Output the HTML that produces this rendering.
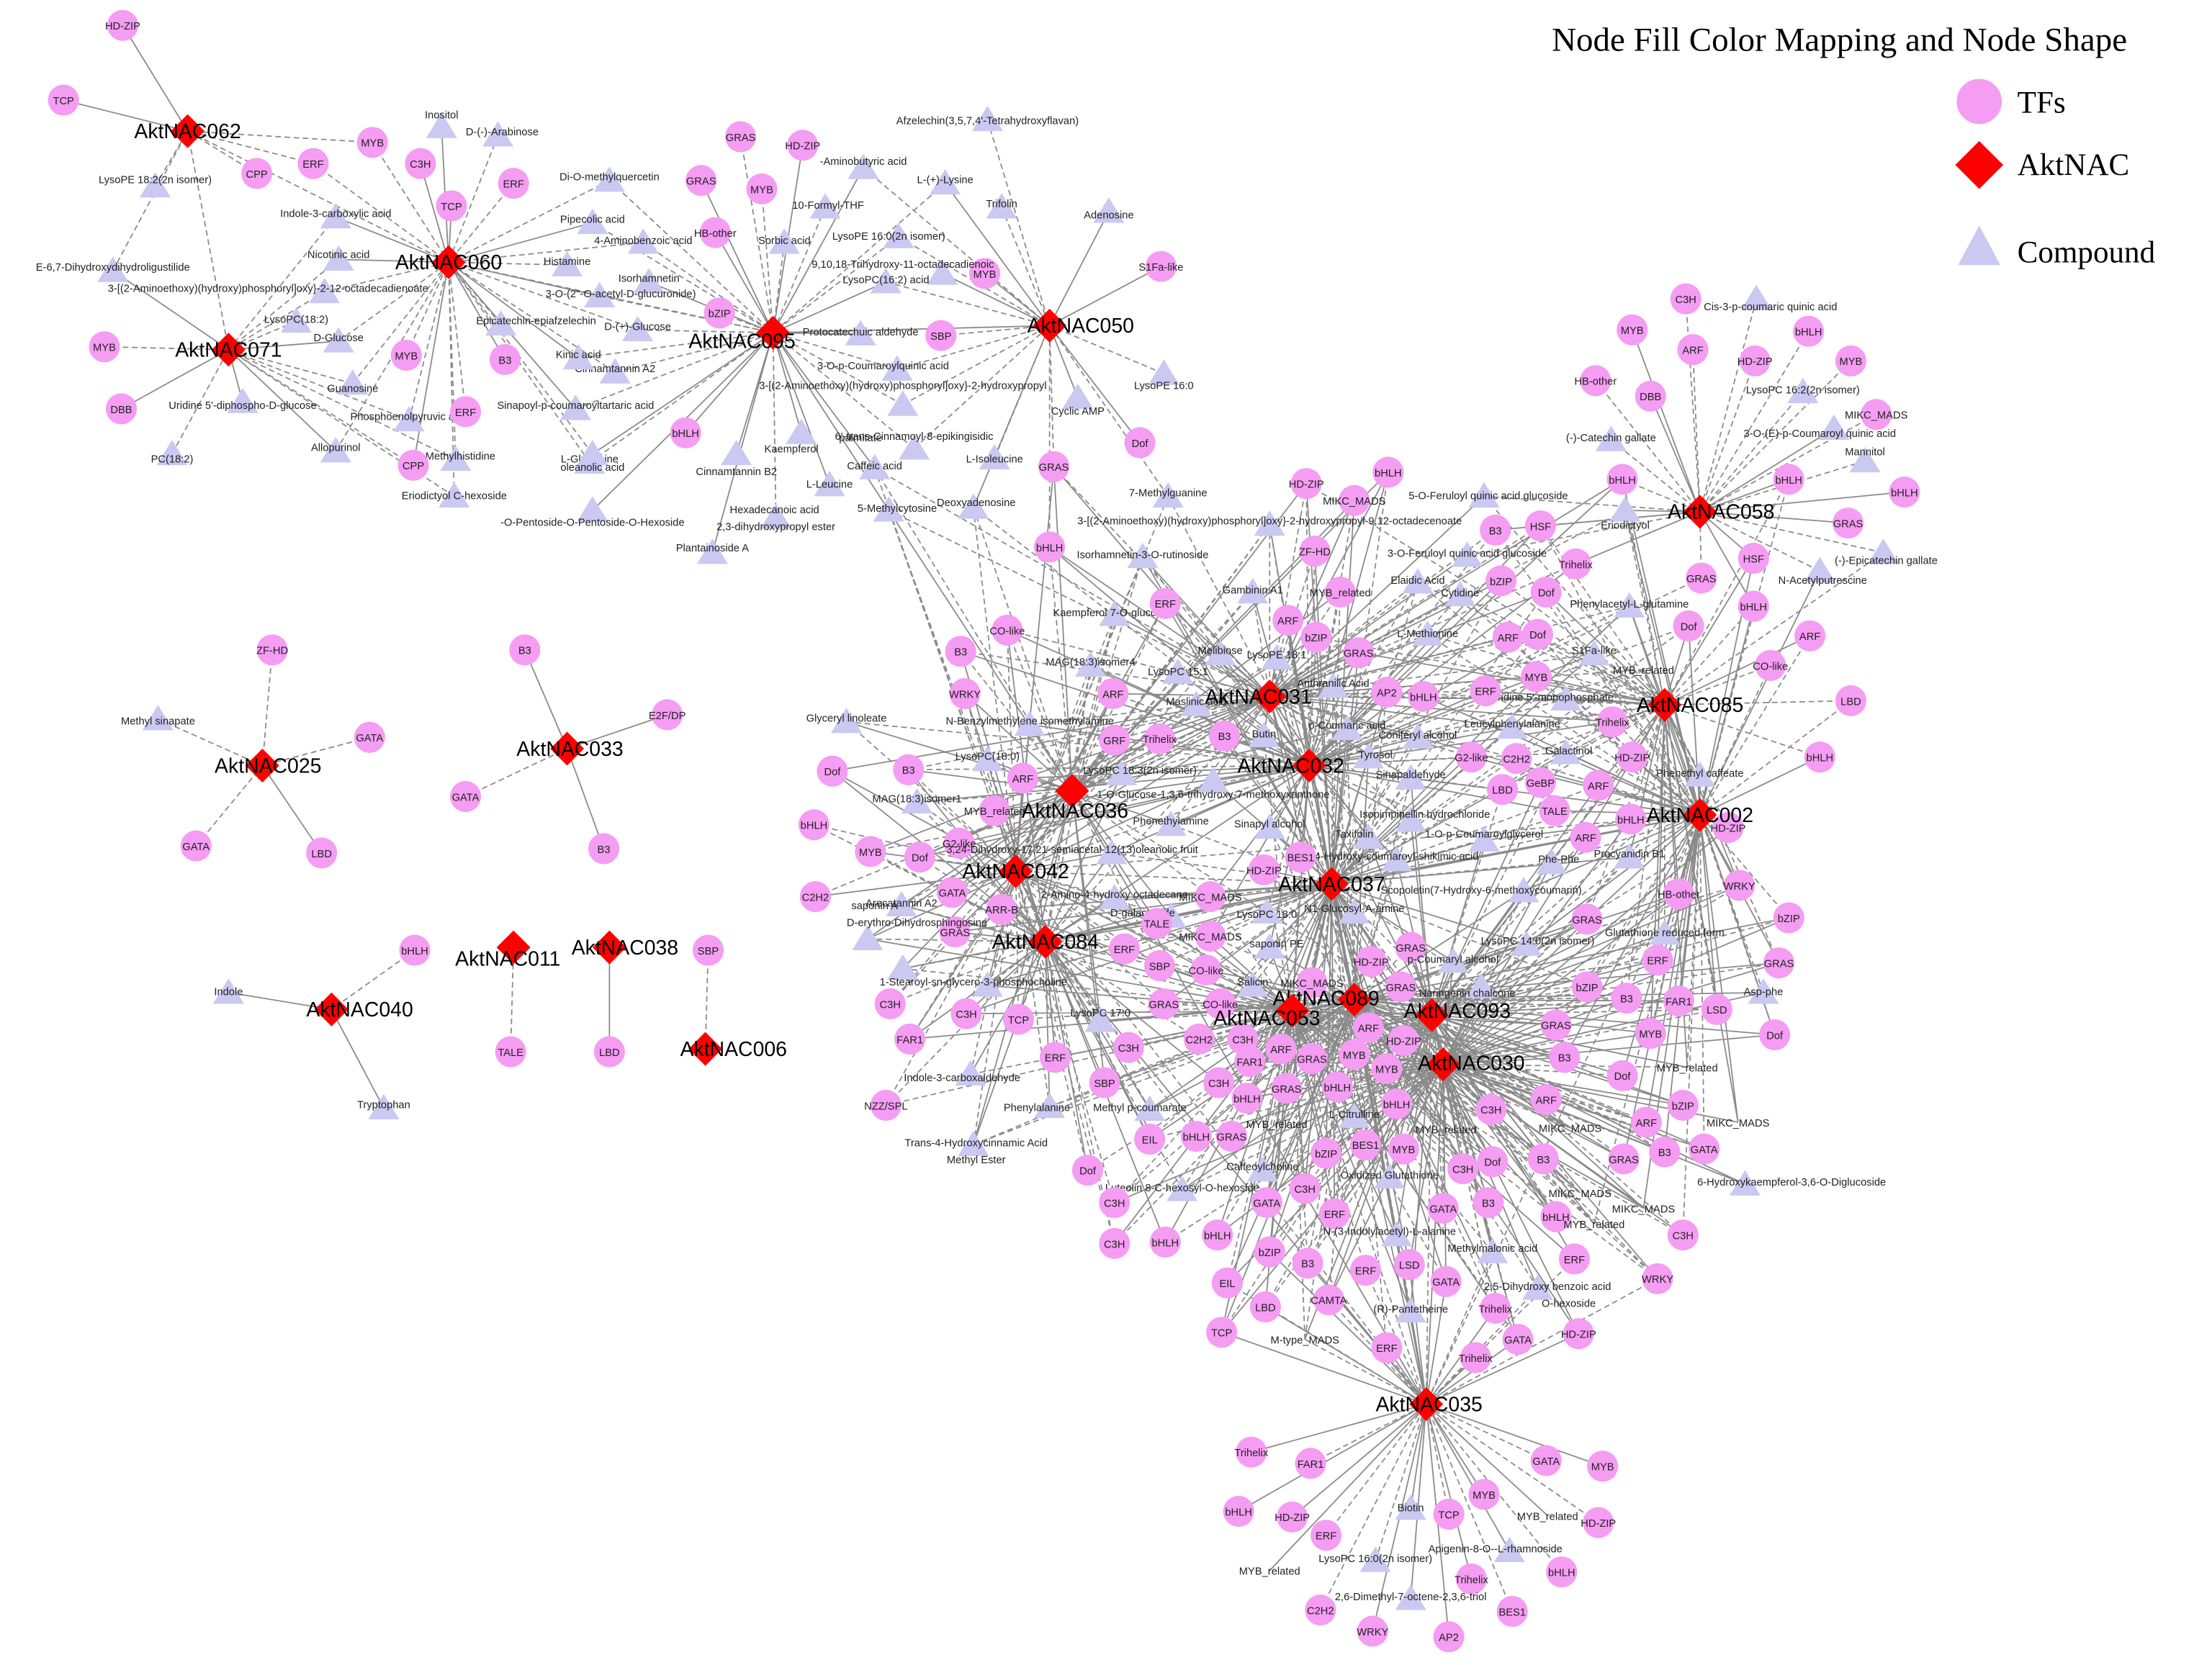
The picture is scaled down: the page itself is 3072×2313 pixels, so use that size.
<!DOCTYPE html>
<html><head><meta charset="utf-8">
<style>
html,body{margin:0;padding:0;background:#fff;}
svg{display:block;}
.n circle{fill:#F59CF3;}
.n use.t{fill:#C9C9F2;}
.n text{font-family:"Liberation Sans",sans-serif;font-size:7.5px;text-anchor:middle;fill:#222;}
.h use{fill:#FF0000;}
.h text{font-family:"Liberation Sans",sans-serif;font-size:14.5px;text-anchor:middle;fill:#000;}
.lg text{font-family:"Liberation Serif",serif;fill:#000;}
</style></head><body>
<svg id="s" width="3072" height="2313" viewBox="0 0 1568 1181" preserveAspectRatio="none" xmlns="http://www.w3.org/2000/svg">
<defs>
<path id="T" d="M0 -10 L11 8 L-11 8Z"/>
<path id="D" d="M0 -12 L12 0 L0 12 L-12 0Z"/>
</defs>
<g id="E" stroke="#8a8a8a" stroke-width="0.9" fill="none"></g>
<g class="n" id="N">
<circle cx="87" cy="18" r="11"/><text x="87" y="21">HD-ZIP</text>
<circle cx="45" cy="71" r="11"/><text x="45" y="74">TCP</text>
<circle cx="222" cy="116" r="11"/><text x="222" y="119">ERF</text>
<circle cx="182" cy="123" r="11"/><text x="182" y="126">CPP</text>
<circle cx="74" cy="246" r="11"/><text x="74" y="249">MYB</text>
<circle cx="86" cy="290" r="11"/><text x="86" y="293">DBB</text>
<use class="t" href="#T" x="122" y="322"/><text x="122" y="328">PC(18:2)</text>
<use class="t" href="#T" x="172" y="285"/><text x="172" y="290">Uridine 5'-diphospho-D-glucose</text>
<use class="t" href="#T" x="80" y="192"/><text x="80" y="192">E-6,7-Dihydroxydihydroligustilide</text>
<use class="t" href="#T" x="110" y="132"/><text x="110" y="130">LysoPE 18:2(2n isomer)</text>
<circle cx="264" cy="101" r="11"/><text x="264" y="104">MYB</text>
<circle cx="298" cy="116" r="11"/><text x="298" y="119">C3H</text>
<circle cx="320" cy="146" r="11"/><text x="320" y="149">TCP</text>
<circle cx="364" cy="130" r="11"/><text x="364" y="133">ERF</text>
<use class="t" href="#T" x="313" y="90"/><text x="313" y="84">Inositol</text>
<use class="t" href="#T" x="353" y="96"/><text x="356" y="96">D-(-)-Arabinose</text>
<use class="t" href="#T" x="238" y="154"/><text x="238" y="154">Indole-3-carboxylic acid</text>
<use class="t" href="#T" x="432" y="128"/><text x="432" y="128">Di-O-methylquercetin</text>
<use class="t" href="#T" x="420" y="158"/><text x="420" y="158">Pipecolic acid</text>
<use class="t" href="#T" x="240" y="184"/><text x="240" y="183">Nicotinic acid</text>
<use class="t" href="#T" x="402" y="188"/><text x="402" y="188">Histamine</text>
<use class="t" href="#T" x="456" y="172"/><text x="456" y="173">4-Aminobenzoic acid</text>
<use class="t" href="#T" x="460" y="200"/><text x="460" y="200">Isorhamnetin</text>
<use class="t" href="#T" x="425" y="210"/><text x="440" y="211">3-O-(2''-O-acetyl-D-glucuronide)</text>
<use class="t" href="#T" x="452" y="234"/><text x="452" y="234">D-(+)-Glucose</text>
<use class="t" href="#T" x="210" y="228"/><text x="210" y="229">LysoPC(18:2)</text>
<use class="t" href="#T" x="240" y="242"/><text x="240" y="242">D-Glucose</text>
<use class="t" href="#T" x="355" y="230"/><text x="380" y="230">Epicatechin-epiafzelechin</text>
<use class="t" href="#T" x="436" y="264"/><text x="436" y="264">Cinnamtannin A2</text>
<use class="t" href="#T" x="410" y="254"/><text x="410" y="254">Kinic acid</text>
<circle cx="358" cy="255" r="11"/><text x="358" y="258">B3</text>
<circle cx="288" cy="252" r="11"/><text x="288" y="255">MYB</text>
<use class="t" href="#T" x="250" y="272"/><text x="250" y="278">Guanosine</text>
<use class="t" href="#T" x="408" y="290"/><text x="408" y="290">Sinapoyl-p-coumaroyltartaric acid</text>
<use class="t" href="#T" x="290" y="298"/><text x="290" y="298">Phosphoenolpyruvic acid</text>
<circle cx="330" cy="292" r="11"/><text x="330" y="295">ERF</text>
<use class="t" href="#T" x="238" y="320"/><text x="238" y="320">Allopurinol</text>
<use class="t" href="#T" x="323" y="326"/><text x="323" y="326">1-Methylhistidine</text>
<use class="t" href="#T" x="418" y="328"/><text x="418" y="328">L-Glutamine</text>
<circle cx="293" cy="330" r="11"/><text x="293" y="333">CPP</text>
<use class="t" href="#T" x="322" y="352"/><text x="322" y="354">Eriodictyol C-hexoside</text>
<use class="t" href="#T" x="230" y="207"/><text x="190" y="207">3-[(2-Aminoethoxy)(hydroxy)phosphoryl]oxy}-2-12-octadecadienoate</text>
<circle cx="525" cy="97" r="11"/><text x="525" y="100">GRAS</text>
<circle cx="569" cy="103" r="11"/><text x="569" y="106">HD-ZIP</text>
<circle cx="540" cy="134" r="11"/><text x="540" y="137">MYB</text>
<circle cx="497" cy="128" r="11"/><text x="497" y="131">GRAS</text>
<circle cx="507" cy="165" r="11"/><text x="507" y="168">HB-other</text>
<circle cx="510" cy="222" r="11"/><text x="510" y="225">bZIP</text>
<circle cx="698" cy="194" r="11"/><text x="698" y="197">MYB</text>
<circle cx="667" cy="238" r="11"/><text x="667" y="241">SBP</text>
<circle cx="486" cy="307" r="11"/><text x="486" y="310">bHLH</text>
<use class="t" href="#T" x="612" y="119"/><text x="612" y="117">-Aminobutyric acid</text>
<use class="t" href="#T" x="585" y="147"/><text x="587" y="148">10-Formyl-THF</text>
<use class="t" href="#T" x="556" y="172"/><text x="556" y="173">Sorbic acid</text>
<use class="t" href="#T" x="670" y="130"/><text x="670" y="130">L-(+)-Lysine</text>
<use class="t" href="#T" x="710" y="147"/><text x="710" y="147">Trifolin</text>
<use class="t" href="#T" x="700" y="85"/><text x="700" y="88">Afzelechin(3,5,7,4'-Tetrahydroxyflavan)</text>
<use class="t" href="#T" x="637" y="168"/><text x="630" y="170">LysoPE 16:0(2n isomer)</text>
<use class="t" href="#T" x="668" y="194"/><text x="640" y="190">9,10,18-Trihydroxy-11-octadecadienoic</text>
<use class="t" href="#T" x="628" y="200"/><text x="628" y="201">LysoPC(16:2) acid</text>
<use class="t" href="#T" x="610" y="237"/><text x="610" y="238">Protocatechuic aldehyde</text>
<use class="t" href="#T" x="636" y="262"/><text x="626" y="262">3-O-p-Coumaroylquinic acid</text>
<use class="t" href="#T" x="640" y="287"/><text x="640" y="276">3-[(2-Aminoethoxy)(hydroxy)phosphoryl]oxy}-2-hydroxypropyl</text>
<text x="610" y="313">palmitate</text>
<use class="t" href="#T" x="568" y="307"/><text x="561" y="321">Kaempferol</text>
<use class="t" href="#T" x="648" y="318"/><text x="648" y="312">6'-trans-Cinnamoyl-8-epikingisidic</text>
<use class="t" href="#T" x="620" y="332"/><text x="620" y="333">Caffeic acid</text>
<use class="t" href="#T" x="705" y="325"/><text x="705" y="328">L-Isoleucine</text>
<use class="t" href="#T" x="522" y="322"/><text x="522" y="337">Cinnamtannin B2</text>
<use class="t" href="#T" x="588" y="344"/><text x="588" y="346">L-Leucine</text>
<use class="t" href="#T" x="630" y="362"/><text x="636" y="363">5-Methylcytosine</text>
<use class="t" href="#T" x="690" y="360"/><text x="692" y="359">Deoxyadenosine</text>
<use class="t" href="#T" x="550" y="367"/><text x="549" y="364">Hexadecanoic acid</text>
<text x="550" y="376">2,3-dihydroxypropyl ester</text>
<use class="t" href="#T" x="505" y="392"/><text x="505" y="391">Plantainoside A</text>
<use class="t" href="#T" x="420" y="322"/><text x="420" y="334">oleanolic acid</text>
<use class="t" href="#T" x="420" y="362"/><text x="420" y="373">-O-Pentoside-O-Pentoside-O-Hexoside</text>
<use class="t" href="#T" x="786" y="150"/><text x="786" y="155">Adenosine</text>
<circle cx="823" cy="189" r="11"/><text x="823" y="192">S1Fa-like</text>
<use class="t" href="#T" x="825" y="265"/><text x="825" y="276">LysoPE 16:0</text>
<circle cx="808" cy="314" r="11"/><text x="808" y="317">Dof</text>
<use class="t" href="#T" x="764" y="282"/><text x="764" y="294">Cyclic AMP</text>
<circle cx="747" cy="331" r="11"/><text x="747" y="334">GRAS</text>
<circle cx="193" cy="461" r="11"/><text x="193" y="464">ZF-HD</text>
<use class="t" href="#T" x="112" y="510"/><text x="112" y="514">Methyl sinapate</text>
<circle cx="262" cy="523" r="11"/><text x="262" y="526">GATA</text>
<circle cx="139" cy="600" r="11"/><text x="139" y="603">GATA</text>
<circle cx="228" cy="605" r="11"/><text x="228" y="608">LBD</text>
<circle cx="372" cy="461" r="11"/><text x="372" y="464">B3</text>
<circle cx="473" cy="507" r="11"/><text x="473" y="510">E2F/DP</text>
<circle cx="330" cy="565" r="11"/><text x="330" y="568">GATA</text>
<circle cx="428" cy="602" r="11"/><text x="428" y="605">B3</text>
<circle cx="294" cy="674" r="11"/><text x="294" y="677">bHLH</text>
<use class="t" href="#T" x="162" y="704"/><text x="162" y="706">Indole</text>
<use class="t" href="#T" x="272" y="786"/><text x="272" y="786">Tryptophan</text>
<circle cx="362" cy="746" r="11"/><text x="362" y="749">TALE</text>
<circle cx="432" cy="746" r="11"/><text x="432" y="749">LBD</text>
<circle cx="502" cy="674" r="11"/><text x="502" y="677">SBP</text>
<circle cx="1195" cy="212" r="11"/><text x="1195" y="215">C3H</text>
<use class="t" href="#T" x="1245" y="212"/><text x="1255" y="220">Cis-3-p-coumaric quinic acid</text>
<circle cx="1157" cy="234" r="11"/><text x="1157" y="237">MYB</text>
<circle cx="1200" cy="248" r="11"/><text x="1200" y="251">ARF</text>
<circle cx="1282" cy="235" r="11"/><text x="1282" y="238">bHLH</text>
<circle cx="1244" cy="256" r="11"/><text x="1244" y="259">HD-ZIP</text>
<circle cx="1312" cy="256" r="11"/><text x="1312" y="259">MYB</text>
<circle cx="1170" cy="281" r="11"/><text x="1170" y="284">DBB</text>
<circle cx="1131" cy="270" r="11"/><text x="1131" y="273">HB-other</text>
<use class="t" href="#T" x="1278" y="278"/><text x="1278" y="279">LysoPC 16:2(2n isomer)</text>
<circle cx="1330" cy="294" r="11"/><text x="1330" y="297">MIKC_MADS</text>
<use class="t" href="#T" x="1300" y="304"/><text x="1290" y="310">3-O-(E)-p-Coumaroyl quinic acid</text>
<use class="t" href="#T" x="1142" y="312"/><text x="1142" y="313">(-)-Catechin gallate</text>
<use class="t" href="#T" x="1322" y="327"/><text x="1322" y="323">Mannitol</text>
<circle cx="1150" cy="340" r="11"/><text x="1150" y="343">bHLH</text>
<circle cx="1268" cy="340" r="11"/><text x="1268" y="343">bHLH</text>
<circle cx="1350" cy="349" r="11"/><text x="1350" y="352">bHLH</text>
<circle cx="1092" cy="373" r="11"/><text x="1092" y="376">HSF</text>
<use class="t" href="#T" x="1152" y="362"/><text x="1152" y="375">Eriodictyol</text>
<circle cx="1310" cy="371" r="11"/><text x="1310" y="374">GRAS</text>
<circle cx="1117" cy="400" r="11"/><text x="1117" y="403">Trihelix</text>
<circle cx="1243" cy="396" r="11"/><text x="1243" y="399">HSF</text>
<use class="t" href="#T" x="1335" y="392"/><text x="1337" y="400">(-)-Epicatechin gallate</text>
<use class="t" href="#T" x="1290" y="405"/><text x="1292" y="414">N-Acetylputrescine</text>
<circle cx="1206" cy="410" r="11"/><text x="1206" y="413">GRAS</text>
<circle cx="1243" cy="430" r="11"/><text x="1243" y="433">bHLH</text>
<use class="t" href="#T" x="1155" y="430"/><text x="1155" y="431">Phenylacetyl-L-glutamine</text>
<circle cx="1283" cy="451" r="11"/><text x="1283" y="454">ARF</text>
<circle cx="1255" cy="472" r="11"/><text x="1255" y="475">CO-like</text>
<circle cx="1197" cy="444" r="11"/><text x="1197" y="447">Dof</text>
<circle cx="1312" cy="497" r="11"/><text x="1312" y="500">LBD</text>
<circle cx="1290" cy="537" r="11"/><text x="1290" y="540">bHLH</text>
<use class="t" href="#T" x="1130" y="464"/><text x="1130" y="464">S1Fa-like</text>
<text x="1165" y="478">MYB_related</text>
<circle cx="1143" cy="512" r="11"/><text x="1143" y="515">Trihelix</text>
<circle cx="1157" cy="537" r="11"/><text x="1157" y="540">HD-ZIP</text>
<use class="t" href="#T" x="1110" y="496"/><text x="1100" y="497">Uridine 5'-monophosphate</text>
<circle cx="926" cy="343" r="11"/><text x="926" y="346">HD-ZIP</text>
<circle cx="984" cy="335" r="11"/><text x="984" y="338">bHLH</text>
<circle cx="960" cy="355" r="11"/><text x="960" y="358">MIKC_MADS</text>
<use class="t" href="#T" x="1052" y="352"/><text x="1055" y="354">5-O-Feruloyl quinic acid glucoside</text>
<use class="t" href="#T" x="828" y="352"/><text x="828" y="352">7-Methylguanine</text>
<circle cx="744" cy="388" r="11"/><text x="744" y="391">bHLH</text>
<use class="t" href="#T" x="900" y="372"/><text x="900" y="372">3-[(2-Aminoethoxy)(hydroxy)phosphoryl]oxy}-2-hydroxypropyl-9,12-octadecenoate</text>
<use class="t" href="#T" x="810" y="395"/><text x="810" y="396">Isorhamnetin-3-O-rutinoside</text>
<circle cx="932" cy="391" r="11"/><text x="932" y="394">ZF-HD</text>
<use class="t" href="#T" x="1040" y="394"/><text x="1040" y="395">3-O-Feruloyl quinic acid glucoside</text>
<circle cx="1060" cy="376" r="11"/><text x="1060" y="379">B3</text>
<use class="t" href="#T" x="888" y="420"/><text x="888" y="421">Gambinin A1</text>
<circle cx="950" cy="420" r="11"/><text x="950" y="423">MYB_related</text>
<use class="t" href="#T" x="1005" y="413"/><text x="1005" y="414">Elaidic Acid</text>
<circle cx="1064" cy="412" r="11"/><text x="1064" y="415">bZIP</text>
<circle cx="1096" cy="420" r="11"/><text x="1096" y="423">Dof</text>
<use class="t" href="#T" x="1035" y="422"/><text x="1035" y="423">Cytidine</text>
<use class="t" href="#T" x="790" y="436"/><text x="790" y="437">Kaempferol 7-O-glucoside</text>
<circle cx="826" cy="428" r="11"/><text x="826" y="431">ERF</text>
<circle cx="913" cy="440" r="11"/><text x="913" y="443">ARF</text>
<circle cx="933" cy="452" r="11"/><text x="933" y="455">bZIP</text>
<circle cx="963" cy="463" r="11"/><text x="963" y="466">GRAS</text>
<use class="t" href="#T" x="1012" y="450"/><text x="1012" y="452">L-Methionine</text>
<circle cx="1069" cy="452" r="11"/><text x="1069" y="455">ARF</text>
<circle cx="1090" cy="450" r="11"/><text x="1090" y="453">Dof</text>
<use class="t" href="#T" x="773" y="472"/><text x="773" y="472">MAG(18:3)isomer4</text>
<circle cx="714" cy="447" r="11"/><text x="714" y="450">CO-like</text>
<circle cx="681" cy="462" r="11"/><text x="681" y="465">B3</text>
<use class="t" href="#T" x="865" y="464"/><text x="865" y="464">Melibiose</text>
<use class="t" href="#T" x="905" y="467"/><text x="905" y="467">LysoPE 18:1</text>
<circle cx="684" cy="492" r="11"/><text x="684" y="495">WRKY</text>
<circle cx="789" cy="492" r="11"/><text x="789" y="495">ARF</text>
<use class="t" href="#T" x="835" y="477"/><text x="835" y="479">LysoPC 15:1</text>
<use class="t" href="#T" x="945" y="487"/><text x="945" y="487">Anthranilic Acid</text>
<circle cx="983" cy="491" r="11"/><text x="983" y="494">AP2</text>
<circle cx="1009" cy="494" r="11"/><text x="1009" y="497">bHLH</text>
<circle cx="1053" cy="490" r="11"/><text x="1053" y="493">ERF</text>
<circle cx="1089" cy="480" r="11"/><text x="1089" y="483">MYB</text>
<use class="t" href="#T" x="600" y="512"/><text x="600" y="512">Glyceryl linoleate</text>
<use class="t" href="#T" x="730" y="514"/><text x="730" y="514">N-Benzylmethylene isomethylamine</text>
<use class="t" href="#T" x="848" y="500"/><text x="848" y="500">Maslinic acid</text>
<circle cx="822" cy="524" r="11"/><text x="822" y="527">Trihelix</text>
<circle cx="868" cy="522" r="11"/><text x="868" y="525">B3</text>
<circle cx="790" cy="525" r="11"/><text x="790" y="528">GRF</text>
<use class="t" href="#T" x="896" y="522"/><text x="896" y="523">Butin</text>
<use class="t" href="#T" x="955" y="517"/><text x="955" y="517">p-Coumaric acid</text>
<use class="t" href="#T" x="1072" y="516"/><text x="1072" y="516">Leucylphenylalanine</text>
<use class="t" href="#T" x="1005" y="523"/><text x="1005" y="524">Coniferyl alcohol</text>
<use class="t" href="#T" x="700" y="539"/><text x="700" y="539">LysoPC(18:0)</text>
<circle cx="590" cy="547" r="11"/><text x="590" y="550">Dof</text>
<circle cx="644" cy="546" r="11"/><text x="644" y="549">B3</text>
<circle cx="725" cy="552" r="11"/><text x="725" y="555">ARF</text>
<use class="t" href="#T" x="795" y="549"/><text x="808" y="549">LysoPC 18:3(2n isomer)</text>
<use class="t" href="#T" x="860" y="554"/><text x="860" y="566">1-O-Glucose-1,3,6-trihydroxy-7-methoxyxanthone</text>
<use class="t" href="#T" x="970" y="537"/><text x="975" y="538">Tyrosol</text>
<circle cx="1043" cy="537" r="11"/><text x="1043" y="540">G2-like</text>
<circle cx="1075" cy="538" r="11"/><text x="1075" y="541">C2H2</text>
<use class="t" href="#T" x="1110" y="534"/><text x="1112" y="535">Galactinol</text>
<use class="t" href="#T" x="1205" y="550"/><text x="1205" y="551">Phenethyl caffeate</text>
<circle cx="577" cy="585" r="11"/><text x="577" y="588">bHLH</text>
<use class="t" href="#T" x="650" y="569"/><text x="650" y="569">MAG(18:3)isomer1</text>
<circle cx="705" cy="575" r="11"/><text x="705" y="578">MYB_related</text>
<use class="t" href="#T" x="830" y="585"/><text x="830" y="585">Phenethylamine</text>
<use class="t" href="#T" x="900" y="587"/><text x="900" y="587">Sinapyl alcohol</text>
<use class="t" href="#T" x="1000" y="552"/><text x="1000" y="552">Sinapaldehyde</text>
<use class="t" href="#T" x="1000" y="582"/><text x="1010" y="580">Isopimpinellin hydrochloride</text>
<circle cx="1065" cy="560" r="11"/><text x="1065" y="563">LBD</text>
<circle cx="1092" cy="555" r="11"/><text x="1092" y="558">GeBP</text>
<circle cx="1133" cy="557" r="11"/><text x="1133" y="560">ARF</text>
<use class="t" href="#T" x="970" y="594"/><text x="960" y="594">Taxifolin</text>
<circle cx="1102" cy="575" r="11"/><text x="1102" y="578">TALE</text>
<circle cx="1156" cy="581" r="11"/><text x="1156" y="584">bHLH</text>
<circle cx="617" cy="604" r="11"/><text x="617" y="607">MYB</text>
<circle cx="652" cy="608" r="11"/><text x="652" y="611">Dof</text>
<circle cx="680" cy="598" r="11"/><text x="680" y="601">G2-like</text>
<use class="t" href="#T" x="788" y="605"/><text x="760" y="605">3,24-Dihydroxy-17,21-semiacetal-12(13)oleanolic fruit</text>
<use class="t" href="#T" x="990" y="610"/><text x="990" y="610">4-Hydroxy-coumaroyl-shikimic acid</text>
<use class="t" href="#T" x="1052" y="596"/><text x="1052" y="594">1-O-p-Coumaroylglycerol</text>
<circle cx="1124" cy="594" r="11"/><text x="1124" y="597">ARF</text>
<circle cx="1225" cy="587" r="11"/><text x="1225" y="590">HD-ZIP</text>
<circle cx="578" cy="636" r="11"/><text x="578" y="639">C2H2</text>
<use class="t" href="#T" x="639" y="642"/><text x="639" y="643">Arecatannin A2</text>
<circle cx="675" cy="633" r="11"/><text x="675" y="636">GATA</text>
<circle cx="922" cy="608" r="11"/><text x="922" y="611">BES1</text>
<circle cx="896" cy="617" r="11"/><text x="896" y="620">HD-ZIP</text>
<circle cx="710" cy="645" r="11"/><text x="710" y="648">ARR-B</text>
<use class="t" href="#T" x="790" y="637"/><text x="790" y="637">2-Amino-4-hydroxy octadecane</text>
<use class="t" href="#T" x="830" y="650"/><text x="810" y="650">D-galactoside</text>
<circle cx="858" cy="636" r="11"/><text x="858" y="639">MIKC_MADS</text>
<use class="t" href="#T" x="1155" y="608"/><text x="1155" y="608">Procyanidin B1</text>
<use class="t" href="#T" x="1100" y="612"/><text x="1105" y="612">Phe-Phe</text>
<use class="t" href="#T" x="1080" y="632"/><text x="1050" y="634">Scopoletin(7-Hydroxy-6-methoxycoumarin)</text>
<circle cx="1190" cy="634" r="11"/><text x="1190" y="637">HB-other</text>
<circle cx="1233" cy="628" r="11"/><text x="1233" y="631">WRKY</text>
<use class="t" href="#T" x="960" y="647"/><text x="960" y="647">N1-Glucosyl-A-amine</text>
<use class="t" href="#T" x="898" y="647"/><text x="898" y="651">LysoPC 18:0</text>
<circle cx="677" cy="661" r="11"/><text x="677" y="664">GRAS</text>
<use class="t" href="#T" x="615" y="666"/><text x="620" y="645">saponin A</text>
<use class="t" href="#T" x="640" y="687"/><text x="650" y="657">D-erythro-Dihydrosphingosine</text>
<circle cx="820" cy="655" r="11"/><text x="820" y="658">TALE</text>
<circle cx="858" cy="664" r="11"/><text x="858" y="667">MIKC_MADS</text>
<use class="t" href="#T" x="900" y="672"/><text x="905" y="672">saponin PE</text>
<circle cx="1125" cy="652" r="11"/><text x="1125" y="655">GRAS</text>
<use class="t" href="#T" x="1180" y="662"/><text x="1180" y="664">Glutathione reduced form</text>
<circle cx="1268" cy="651" r="11"/><text x="1268" y="654">bZIP</text>
<circle cx="797" cy="673" r="11"/><text x="797" y="676">ERF</text>
<circle cx="822" cy="685" r="11"/><text x="822" y="688">SBP</text>
<circle cx="855" cy="688" r="11"/><text x="855" y="691">CO-like</text>
<use class="t" href="#T" x="888" y="699"/><text x="888" y="699">Salicin</text>
<circle cx="972" cy="682" r="11"/><text x="972" y="685">HD-ZIP</text>
<circle cx="1000" cy="672" r="11"/><text x="1000" y="675">GRAS</text>
<use class="t" href="#T" x="1030" y="682"/><text x="1030" y="683">p-Coumaryl alcohol</text>
<use class="t" href="#T" x="1082" y="670"/><text x="1090" y="670">LysoPC 14:0(2n isomer)</text>
<use class="t" href="#T" x="1050" y="700"/><text x="1040" y="707">Naringenin chalcone</text>
<circle cx="1261" cy="683" r="11"/><text x="1261" y="686">GRAS</text>
<circle cx="1175" cy="681" r="11"/><text x="1175" y="684">ERF</text>
<circle cx="631" cy="712" r="11"/><text x="631" y="715">C3H</text>
<circle cx="685" cy="719" r="11"/><text x="685" y="722">C3H</text>
<circle cx="722" cy="723" r="11"/><text x="722" y="726">TCP</text>
<use class="t" href="#T" x="700" y="699"/><text x="690" y="699">1-Stearoyl-sn-glycero-3-phosphocholine</text>
<use class="t" href="#T" x="780" y="724"/><text x="780" y="721">LysoPC 17:0</text>
<circle cx="825" cy="712" r="11"/><text x="825" y="715">GRAS</text>
<circle cx="865" cy="712" r="11"/><text x="865" y="715">CO-like</text>
<circle cx="930" cy="697" r="11"/><text x="930" y="700">MIKC_MADS</text>
<circle cx="993" cy="700" r="11"/><text x="993" y="703">GRAS</text>
<circle cx="1125" cy="700" r="11"/><text x="1125" y="703">bZIP</text>
<circle cx="1153" cy="708" r="11"/><text x="1153" y="711">B3</text>
<circle cx="1190" cy="710" r="11"/><text x="1190" y="713">FAR1</text>
<circle cx="1217" cy="716" r="11"/><text x="1217" y="719">LSD</text>
<use class="t" href="#T" x="1250" y="704"/><text x="1250" y="706">Asp-phe</text>
<circle cx="1103" cy="727" r="11"/><text x="1103" y="730">GRAS</text>
<circle cx="850" cy="737" r="11"/><text x="850" y="740">C2H2</text>
<circle cx="881" cy="737" r="11"/><text x="881" y="740">C3H</text>
<circle cx="886" cy="753" r="11"/><text x="886" y="756">FAR1</text>
<circle cx="908" cy="744" r="11"/><text x="908" y="747">ARF</text>
<circle cx="930" cy="751" r="11"/><text x="930" y="754">GRAS</text>
<circle cx="970" cy="729" r="11"/><text x="970" y="732">ARF</text>
<circle cx="960" cy="748" r="11"/><text x="960" y="751">MYB</text>
<circle cx="995" cy="738" r="11"/><text x="995" y="741">HD-ZIP</text>
<circle cx="1170" cy="733" r="11"/><text x="1170" y="736">MYB</text>
<circle cx="1258" cy="734" r="11"/><text x="1258" y="737">Dof</text>
<circle cx="1109" cy="750" r="11"/><text x="1109" y="753">B3</text>
<circle cx="645" cy="737" r="11"/><text x="645" y="740">FAR1</text>
<circle cx="748" cy="750" r="11"/><text x="748" y="753">ERF</text>
<circle cx="800" cy="743" r="11"/><text x="800" y="746">C3H</text>
<use class="t" href="#T" x="688" y="762"/><text x="682" y="767">Indole-3-carboxaldehyde</text>
<circle cx="783" cy="768" r="11"/><text x="783" y="771">SBP</text>
<circle cx="864" cy="768" r="11"/><text x="864" y="771">C3H</text>
<circle cx="884" cy="779" r="11"/><text x="884" y="782">bHLH</text>
<circle cx="912" cy="772" r="11"/><text x="912" y="775">GRAS</text>
<circle cx="948" cy="771" r="11"/><text x="948" y="774">bHLH</text>
<circle cx="983" cy="758" r="11"/><text x="983" y="761">MYB</text>
<use class="t" href="#T" x="744" y="785"/><text x="735" y="788">Phenylalanine</text>
<use class="t" href="#T" x="815" y="787"/><text x="808" y="788">Methyl p-coumarate</text>
<circle cx="628" cy="784" r="11"/><text x="628" y="787">NZZ/SPL</text>
<circle cx="1150" cy="763" r="11"/><text x="1150" y="766">Dof</text>
<circle cx="1193" cy="784" r="11"/><text x="1193" y="787">bZIP</text>
<circle cx="1057" cy="787" r="11"/><text x="1057" y="790">C3H</text>
<circle cx="1096" cy="780" r="11"/><text x="1096" y="783">ARF</text>
<text x="1196" y="760">MYB_related</text>
<circle cx="990" cy="783" r="11"/><text x="990" y="786">bHLH</text>
<circle cx="1167" cy="796" r="11"/><text x="1167" y="799">ARF</text>
<text x="1232" y="799">MIKC_MADS</text>
<circle cx="1208" cy="815" r="11"/><text x="1208" y="818">GATA</text>
<circle cx="1180" cy="817" r="11"/><text x="1180" y="820">B3</text>
<circle cx="1151" cy="822" r="11"/><text x="1151" y="825">GRAS</text>
<circle cx="815" cy="808" r="11"/><text x="815" y="811">EIL</text>
<circle cx="848" cy="806" r="11"/><text x="848" y="809">bHLH</text>
<circle cx="873" cy="806" r="11"/><text x="873" y="809">GRAS</text>
<text x="905" y="800">MYB_related</text>
<use class="t" href="#T" x="960" y="792"/><text x="960" y="793">L-Citrulline</text>
<use class="t" href="#T" x="690" y="812"/><text x="692" y="813">Trans-4-Hydroxycinnamic Acid</text>
<text x="692" y="825">Methyl Ester</text>
<text x="1025" y="804">MYB_related</text>
<text x="1113" y="803">MIKC_MADS</text>
<circle cx="940" cy="818" r="11"/><text x="940" y="821">bZIP</text>
<circle cx="968" cy="812" r="11"/><text x="968" y="815">BES1</text>
<circle cx="995" cy="815" r="11"/><text x="995" y="818">MYB</text>
<circle cx="1058" cy="824" r="11"/><text x="1058" y="827">Dof</text>
<circle cx="1094" cy="822" r="11"/><text x="1094" y="825">B3</text>
<use class="t" href="#T" x="1237" y="840"/><text x="1270" y="841">6-Hydroxykaempferol-3,6-O-Diglucoside</text>
<circle cx="771" cy="830" r="11"/><text x="771" y="833">Dof</text>
<use class="t" href="#T" x="895" y="830"/><text x="895" y="830">Caffeoylcholine</text>
<use class="t" href="#T" x="985" y="835"/><text x="985" y="836">Oxidized Glutathione</text>
<circle cx="1037" cy="829" r="11"/><text x="1037" y="832">C3H</text>
<use class="t" href="#T" x="838" y="844"/><text x="838" y="845">Luteolin 8-C-hexosyl-O-hexoside</text>
<circle cx="790" cy="853" r="11"/><text x="790" y="856">C3H</text>
<circle cx="925" cy="843" r="11"/><text x="925" y="846">C3H</text>
<circle cx="898" cy="853" r="11"/><text x="898" y="856">GATA</text>
<text x="1120" y="849">MIKC_MADS</text>
<circle cx="1055" cy="853" r="11"/><text x="1055" y="856">B3</text>
<circle cx="1103" cy="863" r="11"/><text x="1103" y="866">bHLH</text>
<text x="1165" y="860">MIKC_MADS</text>
<circle cx="1023" cy="857" r="11"/><text x="1023" y="860">GATA</text>
<text x="1130" y="871">MYB_related</text>
<circle cx="1193" cy="876" r="11"/><text x="1193" y="879">C3H</text>
<circle cx="790" cy="882" r="11"/><text x="790" y="885">C3H</text>
<circle cx="826" cy="881" r="11"/><text x="826" y="884">bHLH</text>
<circle cx="863" cy="876" r="11"/><text x="863" y="879">bHLH</text>
<circle cx="946" cy="861" r="11"/><text x="946" y="864">ERF</text>
<use class="t" href="#T" x="990" y="876"/><text x="985" y="876">N-(3-Indolylacetyl)-L-alanine</text>
<use class="t" href="#T" x="1058" y="888"/><text x="1058" y="888">Methylmalonic acid</text>
<circle cx="1175" cy="907" r="11"/><text x="1175" y="910">WRKY</text>
<circle cx="1116" cy="893" r="11"/><text x="1116" y="896">ERF</text>
<circle cx="900" cy="888" r="11"/><text x="900" y="891">bZIP</text>
<circle cx="927" cy="896" r="11"/><text x="927" y="899">B3</text>
<circle cx="968" cy="901" r="11"/><text x="968" y="904">ERF</text>
<circle cx="999" cy="897" r="11"/><text x="999" y="900">LSD</text>
<circle cx="1025" cy="909" r="11"/><text x="1025" y="912">GATA</text>
<use class="t" href="#T" x="1090" y="914"/><text x="1097" y="915">2,5-Dihydroxy benzoic acid</text>
<text x="1112" y="927">O-hexoside</text>
<circle cx="870" cy="910" r="11"/><text x="870" y="913">EIL</text>
<circle cx="897" cy="927" r="11"/><text x="897" y="930">LBD</text>
<circle cx="942" cy="922" r="11"/><text x="942" y="925">CAMTA</text>
<use class="t" href="#T" x="1000" y="930"/><text x="1000" y="931">(R)-Pantetheine</text>
<circle cx="1060" cy="928" r="11"/><text x="1060" y="931">Trihelix</text>
<circle cx="866" cy="945" r="11"/><text x="866" y="948">TCP</text>
<text x="925" y="953">M-type_MADS</text>
<circle cx="983" cy="956" r="11"/><text x="983" y="959">ERF</text>
<circle cx="1046" cy="963" r="11"/><text x="1046" y="966">Trihelix</text>
<circle cx="1076" cy="950" r="11"/><text x="1076" y="953">GATA</text>
<circle cx="1119" cy="946" r="11"/><text x="1119" y="949">HD-ZIP</text>
<circle cx="887" cy="1030" r="11"/><text x="887" y="1033">Trihelix</text>
<circle cx="929" cy="1038" r="11"/><text x="929" y="1041">FAR1</text>
<circle cx="1096" cy="1036" r="11"/><text x="1096" y="1039">GATA</text>
<circle cx="1136" cy="1040" r="11"/><text x="1136" y="1043">MYB</text>
<circle cx="878" cy="1072" r="11"/><text x="878" y="1075">bHLH</text>
<circle cx="916" cy="1076" r="11"/><text x="916" y="1079">HD-ZIP</text>
<circle cx="940" cy="1089" r="11"/><text x="940" y="1092">ERF</text>
<use class="t" href="#T" x="1000" y="1070"/><text x="1000" y="1072">Biotin</text>
<circle cx="1027" cy="1074" r="11"/><text x="1027" y="1077">TCP</text>
<circle cx="1052" cy="1060" r="11"/><text x="1052" y="1063">MYB</text>
<text x="1097" y="1078">MYB_related</text>
<circle cx="1133" cy="1080" r="11"/><text x="1133" y="1083">HD-ZIP</text>
<use class="t" href="#T" x="1070" y="1100"/><text x="1060" y="1101">Apigenin-8-O--L-rhamnoside</text>
<use class="t" href="#T" x="975" y="1107"/><text x="975" y="1108">LysoPC 16:0(2n isomer)</text>
<text x="900" y="1117">MYB_related</text>
<circle cx="1043" cy="1120" r="11"/><text x="1043" y="1123">Trihelix</text>
<circle cx="1107" cy="1115" r="11"/><text x="1107" y="1118">bHLH</text>
<circle cx="936" cy="1142" r="11"/><text x="936" y="1145">C2H2</text>
<use class="t" href="#T" x="1000" y="1134"/><text x="1000" y="1135">2,6-Dimethyl-7-octene-2,3,6-triol</text>
<circle cx="1072" cy="1143" r="11"/><text x="1072" y="1146">BES1</text>
<circle cx="973" cy="1157" r="11"/><text x="973" y="1160">WRKY</text>
<circle cx="1027" cy="1161" r="11"/><text x="1027" y="1164">AP2</text>
</g>
<g class="h" id="H">
<use href="#D" x="133" y="93"/><text x="133" y="98">AktNAC062</text>
<use href="#D" x="318" y="186"/><text x="318" y="191">AktNAC060</text>
<use href="#D" x="162" y="248"/><text x="162" y="253">AktNAC071</text>
<use href="#D" x="548" y="236"/><text x="526" y="247">AktNAC095</text>
<use href="#D" x="744" y="231"/><text x="766" y="236">AktNAC050</text>
<use href="#D" x="1205" y="363"/><text x="1220" y="368">AktNAC058</text>
<use href="#D" x="1180" y="500"/><text x="1198" y="505">AktNAC085</text>
<use href="#D" x="900" y="494"/><text x="892" y="499">AktNAC031</text>
<use href="#D" x="928" y="543"/><text x="915" y="548">AktNAC032</text>
<use href="#D" x="1205" y="578"/><text x="1205" y="583">AktNAC002</text>
<use href="#D" x="760" y="561"/><text x="762" y="580">AktNAC036</text>
<use href="#D" x="720" y="618"/><text x="720" y="623">AktNAC042</text>
<use href="#D" x="944" y="627"/><text x="944" y="632">AktNAC037</text>
<use href="#D" x="741" y="668"/><text x="741" y="673">AktNAC084</text>
<use href="#D" x="960" y="709"/><text x="940" y="713">AktNAC089</text>
<use href="#D" x="916" y="717"/><text x="898" y="727">AktNAC053</text>
<use href="#D" x="1015" y="720"/><text x="1033" y="722">AktNAC093</text>
<use href="#D" x="1023" y="755"/><text x="1043" y="759">AktNAC030</text>
<use href="#D" x="1011" y="996"/><text x="1013" y="1001">AktNAC035</text>
<use href="#D" x="186" y="543"/><text x="190" y="548">AktNAC025</text>
<use href="#D" x="402" y="531"/><text x="404" y="536">AktNAC033</text>
<use href="#D" x="235" y="716"/><text x="255" y="721">AktNAC040</text>
<use href="#D" x="364" y="672"/><text x="360" y="685">AktNAC011</text>
<use href="#D" x="432" y="672"/><text x="443" y="677">AktNAC038</text>
<use href="#D" x="500" y="744"/><text x="520" y="749">AktNAC006</text>
</g>
<g class="lg">
<text x="1100" y="36" font-size="24">Node Fill Color Mapping and Node Shape</text>
<circle cx="1403" cy="72" r="16" fill="#F59CF3"/><text x="1430" y="80" font-size="22">TFs</text>
<path d="M1403 100 L1420 117 L1403 134 L1386 117Z" fill="#FF0000"/><text x="1430" y="124" font-size="22">AktNAC</text>
<path d="M1403 160 L1418 188 L1388 188Z" fill="#C9C9F2"/><text x="1430" y="186" font-size="22">Compound</text>
</g>
</svg>
<script>
(function(){
var NS="http://www.w3.org/2000/svg";
var hubs=[];var H=document.getElementById('H').querySelectorAll('use');
for(var i=0;i<H.length;i++)hubs.push([+H[i].getAttribute('x'),+H[i].getAttribute('y')]);
var nodes=[];var N=document.getElementById('N').children;
for(var i=0;i<N.length;i++){var e=N[i];
 if(e.tagName=='circle')nodes.push([+e.getAttribute('cx'),+e.getAttribute('cy')]);
 else if(e.tagName=='use')nodes.push([+e.getAttribute('x'),+e.getAttribute('y')]);
 else if(e.tagName=='text'&&e.previousElementSibling&&e.previousElementSibling.tagName=='text'&&!/^(palmitate|2,3-|Methyl Ester|O-hexoside)/.test(e.textContent))nodes.push([+e.getAttribute('x'),+e.getAttribute('y')-3]);
}
var central=[7,8,9,10,11,12,13,14,15,16,17,6];
var seed=7;function rnd(){seed=(seed*9301+49297)%233280;return seed/233280;}
var sol="",das="";
function add(a,b,d){var s="M"+a[0]+" "+a[1]+"L"+b[0]+" "+b[1];if(d)das+=s;else sol+=s;}
var small={"294,674":[21,true],"362,746":[22,true],"432,746":[23,false],"502,674":[24,true],"162,704":[21,false],"272,786":[21,false]};
nodes.forEach(function(p){
 var key=p[0]+","+p[1];
 if(small[key]){add(p,hubs[small[key][0]],small[key][1]);return;}
 var cand;
 if(p[0]<520&&p[1]>440){cand=[19,20];}else{cand=[];for(var c=0;c<19;c++)cand.push(c);}
 var ds=cand.map(function(i){var h=hubs[i];return [Math.hypot(h[0]-p[0],h[1]-p[1]),i];}).sort(function(a,b){return a[0]-b[0];});
 var small2=p[0]<520&&p[1]>440;
 add(p,hubs[ds[0][1]],small2?(rnd()<0.3):(rnd()<0.45));
 if(small2)return;
 var inC=p[0]>560&&p[0]<1300&&p[1]>330&&p[1]<960;
 if(inC){var k=0;for(var j=1;j<ds.length&&k<4;j++){var hi=ds[j][1];if(central.indexOf(hi)>=0&&ds[j][0]<330){if(rnd()<0.75)add(p,hubs[hi],rnd()<0.5);k++;}}}
 else if(ds[1][0]<ds[0][0]*1.5&&ds[1][0]<200)add(p,hubs[ds[1][1]],true);
});
add(hubs[0],hubs[2],true);add(hubs[0],hubs[1],true);add(hubs[1],hubs[3],true);add(hubs[3],hubs[4],false);
for(var a=7;a<18;a++)for(var b=a+1;b<18;b++)if(rnd()<0.4)add(hubs[a],hubs[b],rnd()<0.5);
for(var a=7;a<18;a++){add(hubs[a],hubs[18],rnd()<0.5);}
var E=document.getElementById('E');
var p1=document.createElementNS(NS,'path');p1.setAttribute('d',sol);E.appendChild(p1);
var p2=document.createElementNS(NS,'path');p2.setAttribute('d',das);p2.setAttribute('stroke-dasharray','4 2.5');E.appendChild(p2);
})();
</script>
</body></html>
